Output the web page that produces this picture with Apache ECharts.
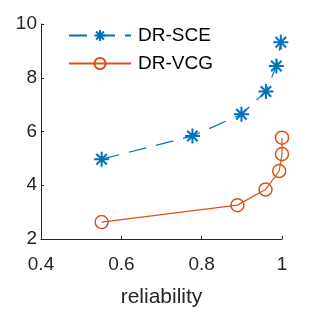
<!DOCTYPE html>
<html>
<head>
<meta charset="utf-8">
<script src="https://cdn.jsdelivr.net/npm/echarts@6/dist/echarts.min.js"></script>
<style>
  html, body { margin: 0; padding: 0; background: #fff; }
  #chart { width: 313px; height: 313px; }
</style>
</head>
<body>
<div id="chart"></div>
<script>
// reliability (x) vs value (y) for each method
const sceX = [0.551, 0.777, 0.899, 0.960, 0.986, 0.997];
const sceY = [4.97, 5.83, 6.64, 7.49, 8.44, 9.32];
const vcgX = [0.551, 0.889, 0.959, 0.993, 1.0, 1.0];
const vcgY = [2.63, 3.26, 3.84, 4.53, 5.16, 5.77];
const xTicks = [0.4, 0.6, 0.8, 1];
const yTicks = [2, 4, 6, 8, 10];

const blue = '#0072BD';
const orange = '#D95319';
const axisColor = '#262626';
const font = 'Liberation Sans, Arial, Helvetica, sans-serif';

const starPath = 'path://M0,-10L0,10M-10,0L10,0M-7,-7L7,7M-7,7L7,-7';

const chart = echarts.init(document.getElementById('chart'), null, { renderer: 'canvas' });

const option = {
  animation: false,
  backgroundColor: '#fff',
  textStyle: { fontFamily: font },
  grid: { left: 41, right: 31, top: 24, bottom: 70, containLabel: false },
  legend: {
    left: 63,
    top: 21,
    orient: 'vertical',
    itemWidth: 62,
    itemHeight: 14,
    itemGap: 9,
    textStyle: { fontSize: 19, color: '#000', fontFamily: font, padding: [0, 0, 0, 2] },
    data: ['DR-SCE', 'DR-VCG']
  },
  xAxis: {
    type: 'value',
    min: 0.4,
    max: 1,
    interval: 0.2,
    name: 'reliability',
    nameLocation: 'middle',
    nameGap: 48,
    nameTextStyle: { fontSize: 21, color: axisColor, fontFamily: font },
    axisLine: { lineStyle: { color: axisColor, width: 1 } },
    axisTick: { inside: true, length: 3, lineStyle: { color: axisColor } },
    axisLabel: {
      fontSize: 19, color: axisColor, margin: 16, fontFamily: font,
      formatter: v => (xTicks.includes(+v.toFixed(1)) ? String(+v.toFixed(1)) : '')
    },
    splitLine: { show: false }
  },
  yAxis: {
    type: 'value',
    min: 2,
    max: 10,
    interval: 2,
    axisLine: { show: true, lineStyle: { color: axisColor, width: 1 } },
    axisTick: { show: true, inside: true, length: 3, lineStyle: { color: axisColor } },
    axisLabel: {
      fontSize: 19, color: axisColor, margin: 4, fontFamily: font,
      formatter: v => (yTicks.includes(v) ? String(v) : '')
    },
    splitLine: { show: false }
  },
  series: [
    {
      name: 'DR-SCE',
      type: 'line',
      data: sceX.map((x, i) => [x, sceY[i]]),
      symbol: starPath,
      symbolSize: 15,
      showAllSymbol: true,
      lineStyle: { color: blue, width: 1.2, type: [18, 10] },
      itemStyle: { color: 'none', borderColor: blue, borderWidth: 2 },
      z: 3
    },
    {
      name: 'DR-VCG',
      type: 'line',
      data: vcgX.map((x, i) => [x, vcgY[i]]),
      symbol: 'circle',
      symbolSize: 13,
      showAllSymbol: true,
      lineStyle: { color: orange, width: 1.2 },
      itemStyle: { color: 'rgba(0,0,0,0)', borderColor: orange, borderWidth: 1.5 },
      z: 2
    }
  ]
};

chart.setOption(option);
</script>
</body>
</html>
